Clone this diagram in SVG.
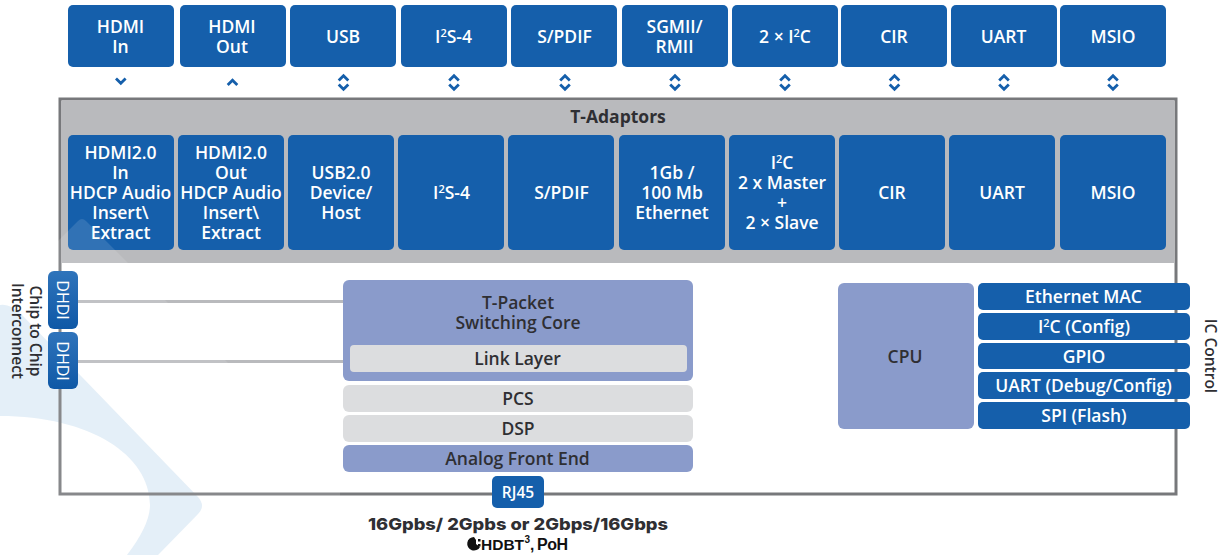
<svg xmlns="http://www.w3.org/2000/svg" width="1232" height="555" viewBox="0 0 1232 555">
<style>
text{font-family:"Open Sans","Noto Sans",sans-serif;font-weight:600;font-size:17.5px;text-anchor:middle}
.w{fill:#fff}.d{fill:#2f2f33}
.b{fill:#155fab}.p{fill:#8a9bcb}.g{fill:#dcdddf}
.a{fill:none;stroke:#155fab;stroke-width:2.8}
.l{fill:none;stroke:#b9babd;stroke-width:3}
.s{font-size:11px}
.r{font-size:15.5px}
.dh{font-size:16px;font-weight:400}
</style>
<defs>
<linearGradient id="dh" x1="0" y1="0" x2="0" y2="1"><stop offset="0" stop-color="#2f74bb"/><stop offset="1" stop-color="#0f58a6"/></linearGradient>
</defs>
<path id="watermark" d="M0 305Q10 303 22 315L198 497Q206 506 198 514L158 555H127Q150 525 150 505C150 455 90 416 0 416Z" fill="#e1edf7"/>
<rect x="60" y="99" width="1116" height="395" fill="none" stroke="#77787b" stroke-width="3"/>
<rect id="t-adaptors-band" x="61.500" y="100.500" width="1113" height="162.500" fill="#b9babd"/>
<text class="d" x="618" y="123" style="font-weight:700">T-Adaptors</text>
<g id="connectors">
<line class="l" x1="78" y1="301.500" x2="344" y2="301.500"/>
<line class="l" x1="78" y1="361.500" x2="344" y2="361.500"/>
<path class="a" d="M116 78.500L120.800 83.300 125.600 78.500"/>
<path class="a" d="M227.700 85L232.500 80.200 237.300 85"/>
<path class="a" d="M338.700 80.500L343.500 75.700 348.300 80.500M338.700 84.500L343.500 89.300 348.300 84.500"/>
<path class="a" d="M449.200 80.500L454 75.700 458.800 80.500M449.200 84.500L454 89.300 458.800 84.500"/>
<path class="a" d="M560.200 80.500L565 75.700 569.800 80.500M560.200 84.500L565 89.300 569.800 84.500"/>
<path class="a" d="M670.200 80.500L675 75.700 679.800 80.500M670.200 84.500L675 89.300 679.800 84.500"/>
<path class="a" d="M780.200 80.500L785 75.700 789.800 80.500M780.200 84.500L785 89.300 789.800 84.500"/>
<path class="a" d="M889.700 80.500L894.500 75.700 899.300 80.500M889.700 84.500L894.500 89.300 899.300 84.500"/>
<path class="a" d="M999.200 80.500L1004 75.700 1008.800 80.500M999.200 84.500L1004 89.300 1008.800 84.500"/>
<path class="a" d="M1108.200 80.500L1113 75.700 1117.800 80.500M1108.200 84.500L1113 89.300 1117.800 84.500"/>
</g>
<g id="top-hdmi-in"><rect class="b" x="68" y="5" width="106" height="62" rx="5"/><text class="w" x="120.500" y="33">HDMI</text><text class="w" x="120.500" y="53">In</text></g>
<g id="top-hdmi-out"><rect class="b" x="180" y="5" width="106" height="62" rx="5"/><text class="w" x="232" y="33">HDMI</text><text class="w" x="232" y="53">Out</text></g>
<g id="top-usb"><rect class="b" x="290" y="5" width="106" height="62" rx="5"/><text class="w" x="343" y="43">USB</text></g>
<g id="top-i2s"><rect class="b" x="401" y="5" width="106" height="62" rx="5"/><text class="w" x="453.500" y="43">I<tspan class="s" dy="-6">2</tspan><tspan dy="6">S-4</tspan></text></g>
<g id="top-spdif"><rect class="b" x="511" y="5" width="106" height="62" rx="5"/><text class="w" x="564.500" y="43">S/PDIF</text></g>
<g id="top-sgmii"><rect class="b" x="622" y="5" width="106" height="62" rx="5"/><text class="w" x="674.500" y="33">SGMII/</text><text class="w" x="674.500" y="53">RMII</text></g>
<g id="top-i2c"><rect class="b" x="732" y="5" width="106" height="62" rx="5"/><text class="w" x="785" y="43">2 × I<tspan class="s" dy="-6">2</tspan><tspan dy="6">C</tspan></text></g>
<g id="top-cir"><rect class="b" x="841" y="5" width="106" height="62" rx="5"/><text class="w" x="894" y="43">CIR</text></g>
<g id="top-uart"><rect class="b" x="951" y="5" width="106" height="62" rx="5"/><text class="w" x="1003.500" y="43">UART</text></g>
<g id="top-msio"><rect class="b" x="1060" y="5" width="106" height="62" rx="5"/><text class="w" x="1113" y="43">MSIO</text></g>

<g id="ad-hdmi-in"><rect class="b" x="68" y="135" width="106" height="115" rx="5"/><text class="w" x="120.500" y="159">HDMI2.0</text><text class="w" x="120.500" y="179">In</text><text class="w" x="120.500" y="199">HDCP Audio</text><text class="w" x="120.500" y="219">Insert\</text><text class="w" x="120.500" y="239">Extract</text></g>
<g id="ad-hdmi-out"><rect class="b" x="178" y="135" width="106" height="115" rx="5"/><text class="w" x="231" y="159">HDMI2.0</text><text class="w" x="231" y="179">Out</text><text class="w" x="231" y="199">HDCP Audio</text><text class="w" x="231" y="219">Insert\</text><text class="w" x="231" y="239">Extract</text></g>
<g id="ad-usb"><rect class="b" x="288" y="135" width="106" height="115" rx="5"/><text class="w" x="341" y="179">USB2.0</text><text class="w" x="341" y="199">Device/</text><text class="w" x="341" y="219">Host</text></g>
<g id="ad-i2s"><rect class="b" x="398" y="135" width="106" height="115" rx="5"/><text class="w" x="451.500" y="199">I<tspan class="s" dy="-6">2</tspan><tspan dy="6">S-4</tspan></text></g>
<g id="ad-spdif"><rect class="b" x="508" y="135" width="106" height="115" rx="5"/><text class="w" x="561.500" y="199">S/PDIF</text></g>
<g id="ad-eth"><rect class="b" x="619" y="135" width="106" height="115" rx="5"/><text class="w" x="672" y="179">1Gb /</text><text class="w" x="672" y="199">100 Mb</text><text class="w" x="672" y="219">Ethernet</text></g>
<g id="ad-i2c"><rect class="b" x="729" y="135" width="106" height="115" rx="5"/><text class="w" x="782" y="169">I<tspan class="s" dy="-6">2</tspan><tspan dy="6">C</tspan></text><text class="w" x="782" y="189">2 x Master</text><text class="w" x="782" y="209">+</text><text class="w" x="782" y="229">2 × Slave</text></g>
<g id="ad-cir"><rect class="b" x="839" y="135" width="106" height="115" rx="5"/><text class="w" x="892" y="199">CIR</text></g>
<g id="ad-uart"><rect class="b" x="949" y="135" width="106" height="115" rx="5"/><text class="w" x="1002" y="199">UART</text></g>
<g id="ad-msio"><rect class="b" x="1060" y="135" width="106" height="115" rx="5"/><text class="w" x="1113" y="199">MSIO</text></g>

<path id="watermark-overlay" d="M0 299L78 221Q82 217 86 221L340 475V555H0Z" fill="#fff" opacity="0.12"/>

<g id="dhdi-1"><rect x="48" y="271" width="30" height="58" rx="6" fill="url(#dh)"/><text class="w dh" transform="translate(56.500 300) rotate(90)">DHDI</text></g>
<g id="dhdi-2"><rect x="48" y="332" width="30" height="57" rx="6" fill="url(#dh)"/><text class="w dh" transform="translate(56.500 361) rotate(90)">DHDI</text></g>
<text class="d r" transform="translate(30 331) rotate(90)">Chip to Chip</text>
<text class="d r" transform="translate(12 331) rotate(90)">Interconnect</text>

<g id="switching-core"><rect class="p" x="343" y="280" width="350" height="101" rx="6"/><text class="d" x="518" y="309">T-Packet</text><text class="d" x="518" y="329">Switching Core</text></g>
<g id="link-layer"><rect class="g" x="350" y="345" width="337" height="27" rx="4"/><text class="d" x="517.500" y="365">Link Layer</text></g>
<g id="pcs"><rect class="g" x="343" y="385" width="350" height="27" rx="6"/><text class="d" x="518" y="405">PCS</text></g>
<g id="dsp"><rect class="g" x="343" y="415" width="350" height="27" rx="6"/><text class="d" x="518" y="435">DSP</text></g>
<g id="afe"><rect class="p" x="343" y="445" width="350" height="27" rx="6"/><text class="d" x="517.500" y="465">Analog Front End</text></g>
<g id="rj45"><rect class="b" x="492" y="476" width="52" height="32" rx="5"/><text class="w" style="font-size:15.5px" x="518" y="498">RJ45</text></g>
<text x="518" y="530" style="font-family:Inter,sans-serif;font-weight:800;font-size:16.500px;fill:#2f2f33" textLength="300" lengthAdjust="spacingAndGlyphs">16Gpbs/ 2Gpbs or 2Gbps/16Gbps</text>
<g id="hdbt-logo"><path d="M474 537a6.800 6.800 0 1 0 6 10l-4-3v-4z" fill="#111"/><rect x="478" y="539" width="2.500" height="2.500" fill="#111"/><rect x="478" y="544" width="2.500" height="2.500" fill="#111"/>
<text y="549.500" style="font-family:'Liberation Sans',sans-serif;font-weight:700;font-size:15.500px;fill:#111;text-anchor:start"><tspan x="481">HDBT</tspan><tspan x="524.500" dy="-7" style="font-size:10px">3</tspan><tspan x="530" dy="7">,</tspan><tspan x="537" style="font-size:16px;font-weight:700;letter-spacing:-.5px">PoH</tspan></text></g>

<g id="cpu"><rect class="p" x="838" y="283" width="136" height="146" rx="6"/><text class="d" x="905" y="363">CPU</text></g>
<g id="eth-mac"><rect class="b" x="978" y="283" width="212" height="27" rx="5"/><text class="w" x="1083.500" y="303">Ethernet MAC</text></g>
<g id="i2c-config"><rect class="b" x="978" y="313" width="212" height="27" rx="5"/><text class="w" x="1084" y="333">I<tspan class="s" dy="-6">2</tspan><tspan dy="6">C (Config)</tspan></text></g>
<g id="gpio"><rect class="b" x="978" y="343" width="212" height="26" rx="5"/><text class="w" x="1084" y="363">GPIO</text></g>
<g id="uart-debug"><rect class="b" x="978" y="372" width="212" height="27" rx="5"/><text class="w" x="1083.500" y="392">UART (Debug/Config)</text></g>
<g id="spi"><rect class="b" x="978" y="402" width="212" height="27" rx="5"/><text class="w" x="1084" y="422">SPI (Flash)</text></g>
<text class="d r" transform="translate(1204.500 356) rotate(90)">IC Control</text>
</svg>
